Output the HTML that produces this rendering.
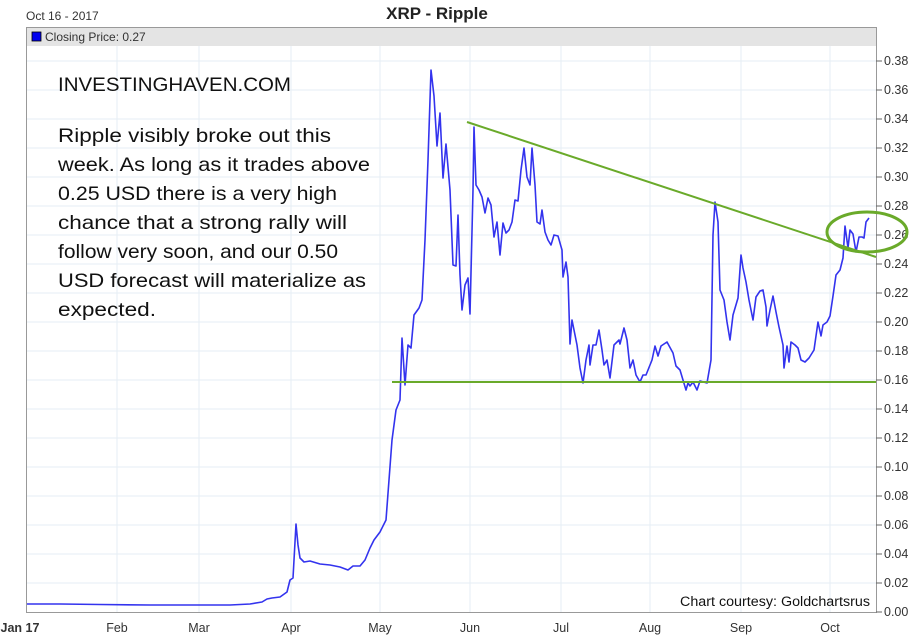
<!DOCTYPE html>
<html><head><meta charset="utf-8"><style>
body{margin:0;background:#fff;width:914px;height:638px;overflow:hidden}
svg{display:block;font-family:"Liberation Sans",sans-serif}
</style></head><body>
<svg width="914" height="638" viewBox="0 0 914 638">
<text x="26" y="20" font-size="12" fill="#333">Oct 16 - 2017</text>
<text x="437" y="19" font-size="17" font-weight="bold" fill="#222" text-anchor="middle">XRP - Ripple</text>
<rect x="26.5" y="27.5" width="850" height="585" fill="#fff" stroke="#999"/>
<rect x="27" y="28" width="849" height="18" fill="#e4e4e4"/>
<rect x="32" y="32" width="9" height="9" fill="#0000ee" stroke="#000" stroke-width="0.8"/>
<text x="45" y="41" font-size="12" fill="#333">Closing Price: 0.27</text>
<g stroke="#e6eef4" stroke-width="1">
<line x1="27" y1="583" x2="876" y2="583"/><line x1="27" y1="554" x2="876" y2="554"/><line x1="27" y1="525" x2="876" y2="525"/><line x1="27" y1="496" x2="876" y2="496"/><line x1="27" y1="467" x2="876" y2="467"/><line x1="27" y1="438" x2="876" y2="438"/><line x1="27" y1="409" x2="876" y2="409"/><line x1="27" y1="380" x2="876" y2="380"/><line x1="27" y1="351" x2="876" y2="351"/><line x1="27" y1="322" x2="876" y2="322"/><line x1="27" y1="293" x2="876" y2="293"/><line x1="27" y1="264" x2="876" y2="264"/><line x1="27" y1="235" x2="876" y2="235"/><line x1="27" y1="206" x2="876" y2="206"/><line x1="27" y1="177" x2="876" y2="177"/><line x1="27" y1="148" x2="876" y2="148"/><line x1="27" y1="119" x2="876" y2="119"/><line x1="27" y1="90" x2="876" y2="90"/><line x1="27" y1="61" x2="876" y2="61"/>
<line x1="117" y1="46" x2="117" y2="612"/><line x1="199" y1="46" x2="199" y2="612"/><line x1="291" y1="46" x2="291" y2="612"/><line x1="380" y1="46" x2="380" y2="612"/><line x1="470" y1="46" x2="470" y2="612"/><line x1="561" y1="46" x2="561" y2="612"/><line x1="650" y1="46" x2="650" y2="612"/><line x1="741" y1="46" x2="741" y2="612"/><line x1="830" y1="46" x2="830" y2="612"/>
</g>
<g stroke="#666"><line x1="876" y1="612" x2="882" y2="612"/><line x1="876" y1="583" x2="882" y2="583"/><line x1="876" y1="554" x2="882" y2="554"/><line x1="876" y1="525" x2="882" y2="525"/><line x1="876" y1="496" x2="882" y2="496"/><line x1="876" y1="467" x2="882" y2="467"/><line x1="876" y1="438" x2="882" y2="438"/><line x1="876" y1="409" x2="882" y2="409"/><line x1="876" y1="380" x2="882" y2="380"/><line x1="876" y1="351" x2="882" y2="351"/><line x1="876" y1="322" x2="882" y2="322"/><line x1="876" y1="293" x2="882" y2="293"/><line x1="876" y1="264" x2="882" y2="264"/><line x1="876" y1="235" x2="882" y2="235"/><line x1="876" y1="206" x2="882" y2="206"/><line x1="876" y1="177" x2="882" y2="177"/><line x1="876" y1="148" x2="882" y2="148"/><line x1="876" y1="119" x2="882" y2="119"/><line x1="876" y1="90" x2="882" y2="90"/><line x1="876" y1="61" x2="882" y2="61"/></g>
<g font-size="12.5" fill="#333">
<text x="884" y="616">0.00</text><text x="884" y="587">0.02</text><text x="884" y="558">0.04</text><text x="884" y="529">0.06</text><text x="884" y="500">0.08</text><text x="884" y="471">0.10</text><text x="884" y="442">0.12</text><text x="884" y="413">0.14</text><text x="884" y="384">0.16</text><text x="884" y="355">0.18</text><text x="884" y="326">0.20</text><text x="884" y="297">0.22</text><text x="884" y="268">0.24</text><text x="884" y="239">0.26</text><text x="884" y="210">0.28</text><text x="884" y="181">0.30</text><text x="884" y="152">0.32</text><text x="884" y="123">0.34</text><text x="884" y="94">0.36</text><text x="884" y="65">0.38</text>
</g>
<g font-size="12.5" fill="#333" text-anchor="middle">
<text x="20" y="632" font-weight="bold">Jan 17</text><text x="117" y="632">Feb</text><text x="199" y="632">Mar</text><text x="291" y="632">Apr</text><text x="380" y="632">May</text><text x="470" y="632">Jun</text><text x="561" y="632">Jul</text><text x="650" y="632">Aug</text><text x="741" y="632">Sep</text><text x="830" y="632">Oct</text>
</g>
<polyline fill="none" stroke="#3333ee" stroke-width="1.6" stroke-linejoin="round" points="27,604 60,604 100,604.5 150,605 200,605 230,605 250,604 262,602 267,599 272,598 280,597 287,592 290,580 293,578 296,524 298,545 300,558 304,562 310,561 320,564 330,565 340,567 348,570 353,566 360,566 365,560 370,548 374,540 380,532 386,520 389,480 392,440 396,410 400,400 402,338 405,385 408,345 411,348 414,315 419,308 422,300 425,240 428,160 431,70 434,96 437,146 440,113 443,178 446,144 450,190 453,265 456,266 458,215 460,275 462,310 465,285 468,278 470,314 473,190 474,127 476,185 479,190 482,197 485,213 488,198 491,205 494,237 497,222 500,255 503,223 506,233 509,230 512,222 515,200 518,201 521,170 524,148 527,177 530,185 532,148 535,185 537,222 540,224 542,210 545,232 548,240 551,245 554,235 558,236 562,250 563,277 566,262 568,277 570,344 572,320 574,330 577,345 580,368 583,383 586,360 589,345 590,365 593,345 596,345 599,330 602,350 604,365 607,360 610,378 614,345 619,340 620,344 624,328 627,340 630,368 633,360 636,375 640,382 643,375 646,375 652,360 655,346 658,356 661,346 667,342 673,353 676,366 680,370 683,380 686,390 688,383 690,386 693,382 697,390 700,381 707,383 711,360 713,235 715,202 718,222 720,290 724,300 727,322 730,340 733,315 738,298 741,255 743,268 746,282 749,300 753,320 756,297 760,291 763,290 766,307 767,326 770,310 773,296 776,312 779,327 783,345 784,368 787,346 789,362 791,342 795,345 798,348 801,360 805,362 809,358 814,350 818,322 821,336 823,325 827,322 830,316 833,296 836,275 840,270 843,258 845,226 848,248 850,230 853,234 856,252 859,237 862,237 864,238 866,222 869,218"/>
<line x1="392" y1="382" x2="876" y2="382" stroke="#6aaa2a" stroke-width="2"/>
<line x1="467" y1="122" x2="876" y2="257" stroke="#6aaa2a" stroke-width="2"/>
<ellipse cx="867" cy="232" rx="40" ry="20" fill="none" stroke="#6aaa2a" stroke-width="3"/>
<g font-size="19.5" fill="#111">
<text x="58" y="91" textLength="233" lengthAdjust="spacingAndGlyphs">INVESTINGHAVEN.COM</text>
<text x="58" y="142" textLength="273" lengthAdjust="spacingAndGlyphs">Ripple visibly broke out this</text>
<text x="58" y="171" textLength="312" lengthAdjust="spacingAndGlyphs">week. As long as it trades above</text>
<text x="58" y="200" textLength="279" lengthAdjust="spacingAndGlyphs">0.25 USD there is a very high</text>
<text x="58" y="229" textLength="289" lengthAdjust="spacingAndGlyphs">chance that a strong rally will</text>
<text x="58" y="258" textLength="280" lengthAdjust="spacingAndGlyphs">follow very soon, and our 0.50</text>
<text x="58" y="287" textLength="308" lengthAdjust="spacingAndGlyphs">USD forecast will materialize as</text>
<text x="58" y="316" textLength="98" lengthAdjust="spacingAndGlyphs">expected.</text>
</g>
<text x="680" y="606" font-size="13.5" fill="#111" textLength="190" lengthAdjust="spacingAndGlyphs">Chart courtesy: Goldchartsrus</text>
</svg>
</body></html>
